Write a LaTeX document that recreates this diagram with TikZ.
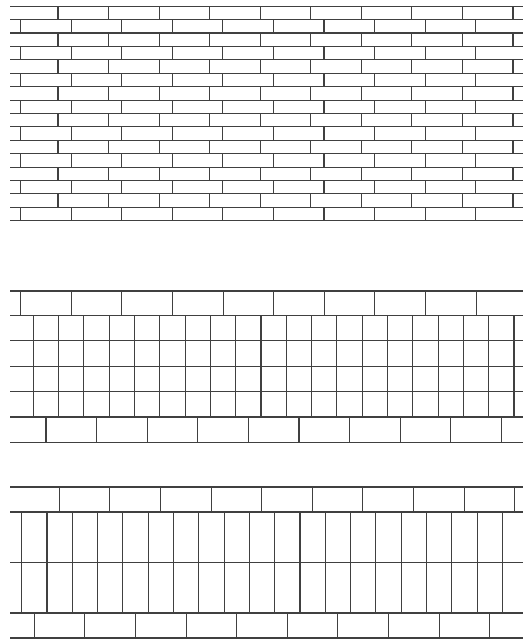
\documentclass[tikz,border=0pt]{standalone}
\usepackage{tikz}
\usetikzlibrary{calc}
\tikzset{mortar/.style={draw=black!75, line width=1.1pt}}
\begin{document}
\begin{tikzpicture}[x=1pt,y=-1pt]
			\useasboundingbox (0,0) rectangle (528,641);
			\coordinate (L) at (10,0);
			\coordinate (R) at (523,0);
			\foreach \i in {0,...,16}
				\draw[mortar] ($(L)+(0,6.2+13.41*\i)$) -- ($(R)+(0,6.2+13.41*\i)$);
			\foreach \r in {0,...,15}{
				\pgfmathsetmacro{\yt}{6.2+13.41*\r}
				\pgfmathsetmacro{\xo}{mod(\r,2)==0 ? 58 : 20.7}
				\foreach \k in {0,...,9}
					\draw[mortar] ({\xo+50.55*\k},\yt) -- ++(0,13.41);
			}
			\foreach \y in {291,315.5,340.9,366.3,391.6,417,442.5}
				\draw[mortar] ($(L)+(0,\y)$) -- ($(R)+(0,\y)$);
			\foreach \k in {0,...,9}{
				\draw[mortar] ({20.7+50.6*\k},291) -- ({20.7+50.6*\k},315.5);
				\draw[mortar] ({46+50.6*\k},417) -- ({46+50.6*\k},442.5);
			}
			\foreach \k in {0,...,19}
				\draw[mortar] ({33.3+25.3*\k},315.5) -- ({33.3+25.3*\k},417);
			\foreach \y in {487,512,562.5,613,638}
				\draw[mortar] ($(L)+(0,\y)$) -- ($(R)+(0,\y)$);
			\foreach \k in {0,...,9}{
				\draw[mortar] ({59.3+50.6*\k},487) -- ({59.3+50.6*\k},512);
				\draw[mortar] ({34.3+50.6*\k},613) -- ({34.3+50.6*\k},638);
			}
			\foreach \k in {0,...,19}
				\draw[mortar] ({21.7+25.3*\k},512) -- ({21.7+25.3*\k},613);
		\end{tikzpicture}
\end{document}
